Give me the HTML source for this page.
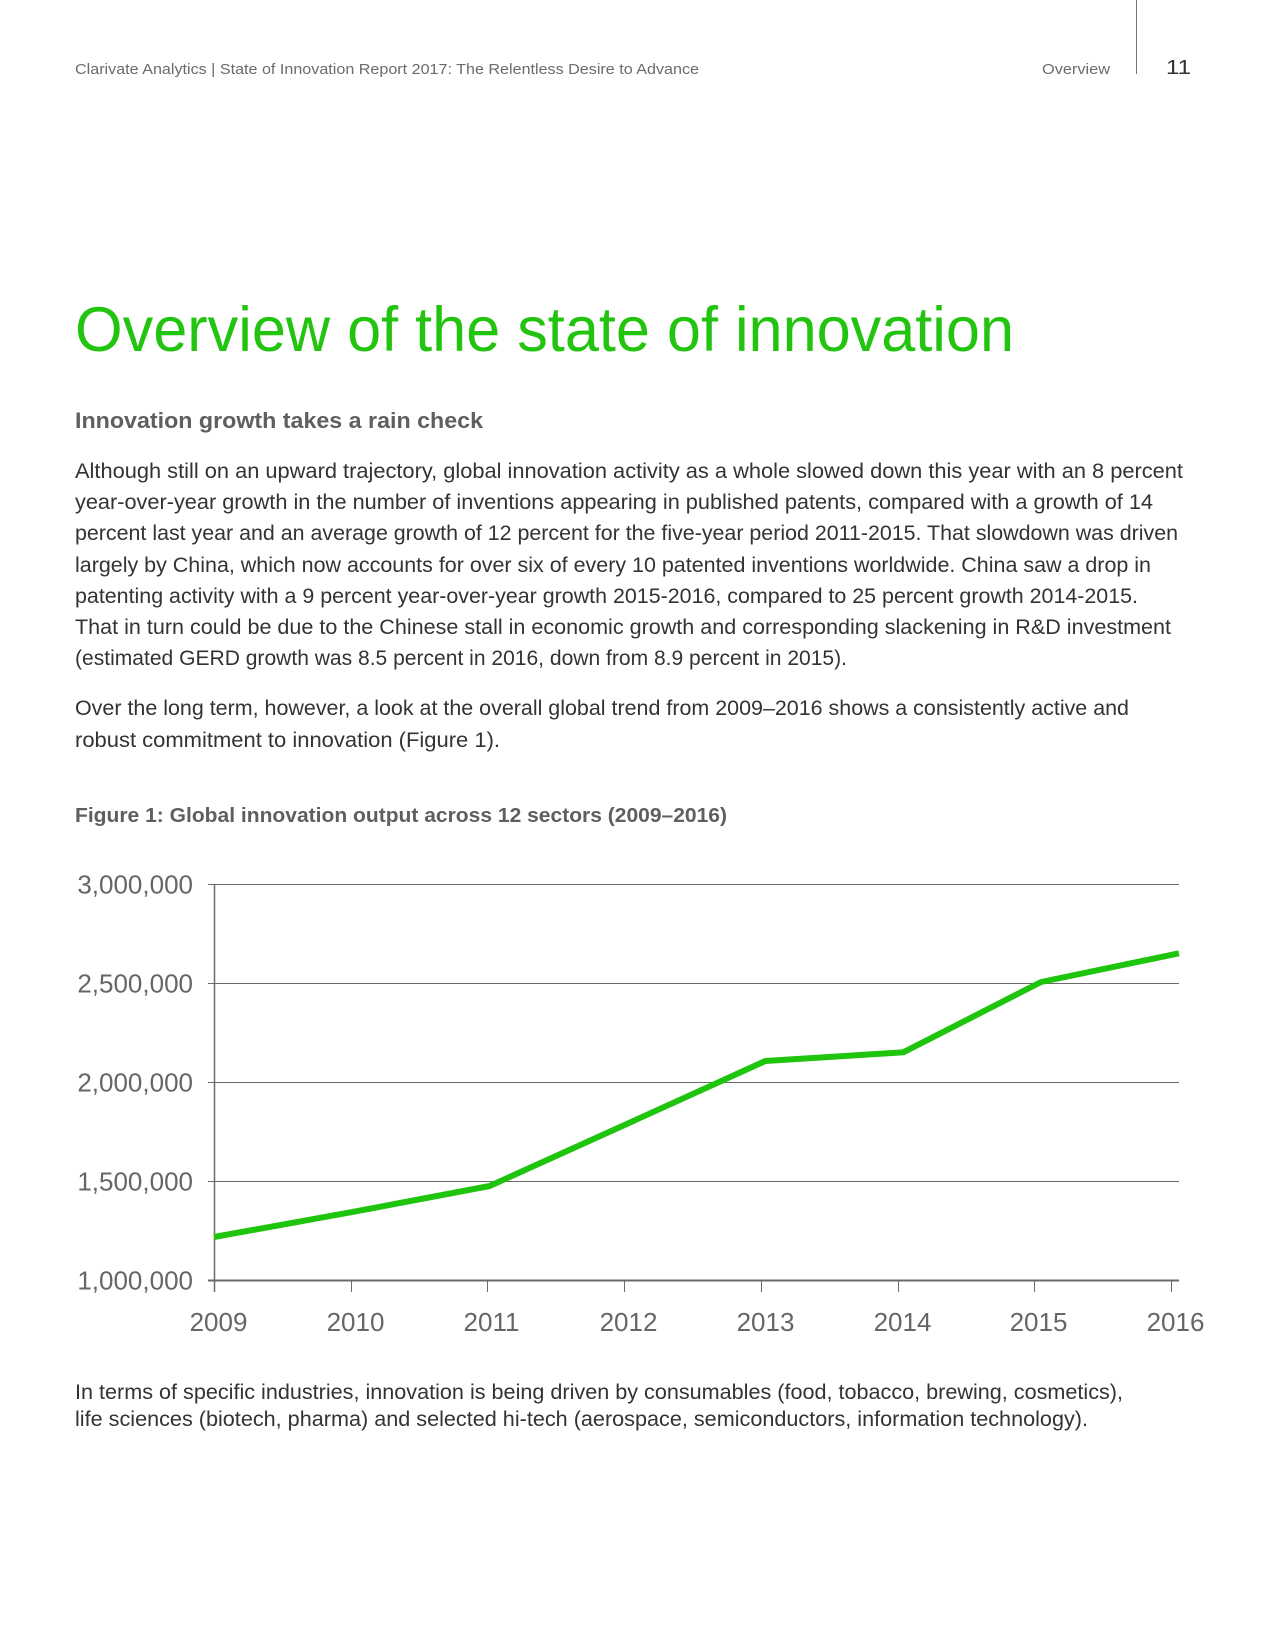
<!DOCTYPE html>
<html><head><meta charset="utf-8"><style>
html,body{margin:0;padding:0;background:#fff;}
svg{display:block;font-family:"Liberation Sans",sans-serif;}
</style></head><body>
<svg id="page" width="1275" height="1650" viewBox="0 0 1275 1650">
<g fill="#6b6b6b" font-size="15">
<text x="75" y="74" textLength="624" lengthAdjust="spacingAndGlyphs">Clarivate Analytics | State of Innovation Report 2017: The Relentless Desire to Advance</text>
<text x="1042" y="74" textLength="68" lengthAdjust="spacingAndGlyphs">Overview</text>
<line x1="1136.5" y1="0" x2="1136.5" y2="74" stroke="#777" stroke-width="1"/>
<text x="1166" y="74" font-size="20" fill="#333" textLength="25" lengthAdjust="spacingAndGlyphs">11</text>
</g>
<text x="75" y="351" font-size="63" fill="#22c40f" textLength="939" lengthAdjust="spacingAndGlyphs">Overview of the state of innovation</text>
<text x="75" y="428" font-size="22" font-weight="bold" fill="#5f5f5f" textLength="408" lengthAdjust="spacingAndGlyphs">Innovation growth takes a rain check</text>
<g font-size="21" fill="#333">
<text x="75" y="478" textLength="1108" lengthAdjust="spacingAndGlyphs">Although still on an upward trajectory, global innovation activity as a whole slowed down this year with an 8 percent</text>
<text x="75" y="509" textLength="1078" lengthAdjust="spacingAndGlyphs">year-over-year growth in the number of inventions appearing in published patents, compared with a growth of 14</text>
<text x="75" y="540" textLength="1103" lengthAdjust="spacingAndGlyphs">percent last year and an average growth of 12 percent for the five-year period 2011-2015. That slowdown was driven</text>
<text x="75" y="572" textLength="1076" lengthAdjust="spacingAndGlyphs">largely by China, which now accounts for over six of every 10 patented inventions worldwide. China saw a drop in</text>
<text x="75" y="603" textLength="1063" lengthAdjust="spacingAndGlyphs">patenting activity with a 9 percent year-over-year growth 2015-2016, compared to 25 percent growth 2014-2015.</text>
<text x="75" y="634" textLength="1096" lengthAdjust="spacingAndGlyphs">That in turn could be due to the Chinese stall in economic growth and corresponding slackening in R&amp;D investment</text>
<text x="75" y="665" textLength="772" lengthAdjust="spacingAndGlyphs">(estimated GERD growth was 8.5 percent in 2016, down from 8.9 percent in 2015).</text>
</g>
<g font-size="21" fill="#333">
<text x="75" y="715" textLength="1054" lengthAdjust="spacingAndGlyphs">Over the long term, however, a look at the overall global trend from 2009–2016 shows a consistently active and</text>
<text x="75" y="747" textLength="425" lengthAdjust="spacingAndGlyphs">robust commitment to innovation (Figure 1).</text>
</g>
<text x="75" y="822" font-size="20" font-weight="bold" fill="#5f5f5f" textLength="652" lengthAdjust="spacingAndGlyphs">Figure 1: Global innovation output across 12 sectors (2009–2016)</text>
<g id="chart"></g>
<g font-size="21" fill="#333">
<text x="75" y="1399" textLength="1048" lengthAdjust="spacingAndGlyphs">In terms of specific industries, innovation is being driven by consumables (food, tobacco, brewing, cosmetics),</text>
<text x="75" y="1426" textLength="1013" lengthAdjust="spacingAndGlyphs">life sciences (biotech, pharma) and selected hi-tech (aerospace, semiconductors, information technology).</text>
</g>
</svg>
<script>
const categories = ["2009","2010","2011","2012","2013","2014","2015","2016"];
const values = [1217000, 1343000, 1475000, 1790000, 2106000, 2150000, 2505000, 2650000];
const yTicks = [1000000, 1500000, 2000000, 2500000, 3000000];
const yTickLabels = ["1,000,000","1,500,000","2,000,000","2,500,000","3,000,000"];

const NS = "http://www.w3.org/2000/svg";
const g = document.getElementById("chart");
const X0 = 214, X1 = 1179, Y0 = 1280, Y1 = 884;
const yMin = 1000000, yMax = 3000000;
const yScale = v => Y0 - (v - yMin) / (yMax - yMin) * (Y0 - Y1);
const tickX = i => X0 + i * (1171 - X0) / (categories.length - 1);
const lineX = i => X0 + i * (X1 - X0) / (categories.length - 1);
function mk(tag, attrs){const e=document.createElementNS(NS,tag);for(const k in attrs)e.setAttribute(k,attrs[k]);g.appendChild(e);return e;}

yTicks.forEach((t,i)=>{
  const y = Math.round(yScale(t)) + 0.5;
  const gl = mk("line",{x1:X0-6,x2:X1,y1:y,y2:y,stroke:"#6a6a6a","stroke-width":i===0?2:1});
  
  
  const tx = mk("text",{x:193,y:y+9,"text-anchor":"end","font-size":26,fill:"#666"});
  tx.textContent = yTickLabels[i];
  
  
});
const ax = mk("line",{x1:X0+0.5,x2:X0+0.5,y1:Y1,y2:Y0+12,stroke:"#6a6a6a","stroke-width":1.5});


categories.forEach((c,i)=>{
  const x = Math.round(tickX(i)) + 0.5;
  const tk = mk("line",{x1:x,x2:x,y1:Y0,y2:Y0+12,stroke:"#6a6a6a","stroke-width":1});
  
  
  const tx = mk("text",{x:x+4,y:1331,"text-anchor":"middle","font-size":26,fill:"#666"});
  tx.textContent = c;
  
  
});
const pts = values.map((v,i)=>lineX(i).toFixed(1)+","+yScale(v).toFixed(1)).join(" ");
const pl = mk("polyline",{points:pts,fill:"none",stroke:"#1fc40c","stroke-width":6,"stroke-linejoin":"round"});


</script>
</body></html>
